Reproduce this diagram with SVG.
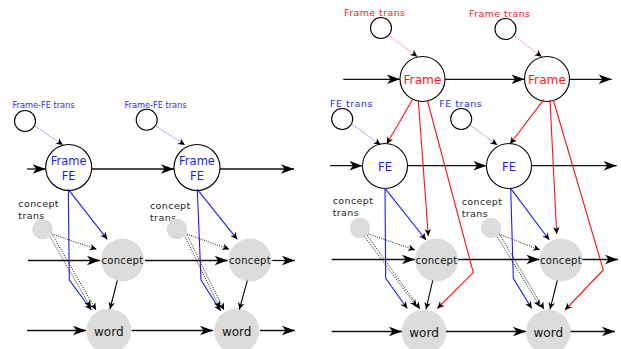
<svg xmlns="http://www.w3.org/2000/svg" width="621" height="349" viewBox="0 0 621 349">
<style>
text{font-family:"DejaVu Sans","Liberation Sans",sans-serif}
.node{fill:#fff;stroke:#000;stroke-width:1.1}
.gray{fill:#dcdcdc;stroke:none}
.row{fill:none;stroke:#111;stroke-width:1.3;marker-end:url(#big)}
.blk{fill:none;stroke:#000;stroke-width:1.1;marker-end:url(#sk)}
.dot{fill:none;stroke:#000;stroke-width:0.9;stroke-dasharray:1,1.3;marker-end:url(#sk)}
.blu{fill:none;stroke:#1a1aff;stroke-width:1.1;marker-end:url(#sk)}
.bdot{fill:none;stroke:#3a3aff;stroke-width:0.8;stroke-dasharray:1,1;marker-end:url(#sk)}
.red{fill:none;stroke:#ff1010;stroke-width:1.1;marker-end:url(#sk)}
.rdot{fill:none;stroke:#ff3030;stroke-width:0.8;stroke-dasharray:1,1;marker-end:url(#sk)}
.lblb{fill:#2a2aff;font-size:8.2px}
.lblr{fill:#ff2020;font-size:9.5px;letter-spacing:0.4px}
.lblfe{fill:#2a2aff;font-size:9.5px;letter-spacing:0.5px}
.lblc{fill:#222;font-size:9.5px;letter-spacing:0.4px}
.ct{fill:#111;font-size:10px;letter-spacing:0.3px;text-anchor:middle}
.wt{fill:#111;font-size:12px;text-anchor:middle}
.bt{fill:#1a1aff;font-size:11.5px;text-anchor:middle}
.rt{fill:#ff1a1a;font-size:12.2px;text-anchor:middle}
</style>
<defs>
<marker id="big" markerUnits="userSpaceOnUse" viewBox="-14 -6 15 12" markerWidth="15" markerHeight="12" refX="0" refY="0" orient="auto" overflow="visible">
<path d="M0,0 L-13,-4.8 L-9.5,0 L-13,4.8 Z" fill="#000"/>
</marker>
<marker id="sk" markerUnits="userSpaceOnUse" viewBox="-8 -4 9 8" markerWidth="9" markerHeight="8" refX="0" refY="0" orient="auto" overflow="visible">
<path d="M0,0 L-7,-3.3 L-5,0 L-7,3.3 Z" fill="#000"/>
</marker>
</defs>

<!-- nodes: left diagram -->
<g id="L-ffetrans1"><text class="lblb" x="12.5" y="108">Frame-FE trans</text><circle class="node" cx="25" cy="121" r="10.5"/></g>
<g id="L-ffetrans2"><text class="lblb" x="124.5" y="108">Frame-FE trans</text><circle class="node" cx="146.7" cy="119.8" r="10.5"/></g>
<g id="L-framefe1"><circle class="node" cx="68.7" cy="167.5" r="23"/><text class="bt" x="68.7" y="165">Frame</text><text class="bt" x="68.7" y="180">FE</text></g>
<g id="L-framefe2"><circle class="node" cx="197" cy="167.5" r="23"/><text class="bt" x="197" y="165">Frame</text><text class="bt" x="197" y="180">FE</text></g>
<g id="L-ctrans1"><text class="lblc" x="18.3" y="207">concept</text><text class="lblc" x="18.3" y="219">trans</text><circle class="gray" cx="42.5" cy="229" r="10.3"/></g>
<g id="L-ctrans2"><text class="lblc" x="150" y="209">concept</text><text class="lblc" x="150" y="221">trans</text><circle class="gray" cx="177" cy="229" r="10.3"/></g>
<g id="L-concept1"><circle class="gray" cx="122.5" cy="260" r="21.5"/></g>
<g id="L-concept2"><circle class="gray" cx="250" cy="260" r="21.5"/></g>
<g id="L-word1"><circle class="gray" cx="108.8" cy="331" r="22.5"/><text class="wt" x="108.8" y="335.5">word</text></g>
<g id="L-word2"><circle class="gray" cx="236.7" cy="331" r="22.5"/><text class="wt" x="236.7" y="335.5">word</text></g>

<!-- nodes: right diagram -->
<g id="R-ftrans1"><text class="lblr" x="344" y="16">Frame trans</text><circle class="node" cx="381" cy="28" r="10.5"/></g>
<g id="R-ftrans2"><text class="lblr" x="469" y="17">Frame trans</text><circle class="node" cx="505.5" cy="29" r="10.5"/></g>
<g id="R-frame1"><circle class="node" cx="422.5" cy="79" r="22.5"/><text class="rt" x="422.5" y="83.5">Frame</text></g>
<g id="R-frame2"><circle class="node" cx="547" cy="79" r="22.5"/><text class="rt" x="547" y="83.5">Frame</text></g>
<g id="R-fetrans1"><text class="lblfe" x="330" y="106.7">FE trans</text><circle class="node" cx="342.2" cy="119" r="10.5"/></g>
<g id="R-fetrans2"><text class="lblfe" x="439.3" y="106.7">FE trans</text><circle class="node" cx="461.2" cy="119" r="10.5"/></g>
<g id="R-fe1"><circle class="node" cx="385" cy="166" r="22.5"/><text class="bt" x="385" y="170.5">FE</text></g>
<g id="R-fe2"><circle class="node" cx="509" cy="166" r="22.5"/><text class="bt" x="509" y="170.5">FE</text></g>
<g id="R-ctrans1"><text class="lblc" x="332.7" y="204">concept</text><text class="lblc" x="332.7" y="216">trans</text><circle class="gray" cx="360" cy="228" r="10.2"/></g>
<g id="R-ctrans2"><text class="lblc" x="461.7" y="205">concept</text><text class="lblc" x="461.7" y="217">trans</text><circle class="gray" cx="491" cy="228" r="10.2"/></g>
<g id="R-concept1"><circle class="gray" cx="436.5" cy="260" r="21.5"/></g>
<g id="R-concept2"><circle class="gray" cx="561" cy="260" r="21.5"/></g>
<g id="R-word1"><circle class="gray" cx="424" cy="332" r="22.3"/><text class="wt" x="424" y="336.5">word</text></g>
<g id="R-word2"><circle class="gray" cx="548.3" cy="332" r="22.3"/><text class="wt" x="548.3" y="336.5">word</text></g>

<!-- connectors -->
<g id="connectors">
<!-- left rows -->
<path class="row" d="M27,169 L45.7,169"/>
<path class="row" d="M91.7,169 L174,169"/>
<path class="row" d="M220,169 L294,169"/>
<path class="row" d="M28,260.5 L100,260.5"/>
<path class="row" d="M145,260.5 L227.7,260.5"/>
<path class="row" d="M272.3,260.5 L295,260.5"/>
<path class="row" d="M27,330.5 L86,330.5"/>
<path class="row" d="M131.7,330.5 L213,330.5"/>
<path class="row" d="M260,330.5 L295,330.5"/>
<!-- left col 1 -->
<path class="bdot" d="M35,126 L63,145"/>
<path class="blu" d="M68.3,189.3 L107.3,239.3"/>
<path class="blu" d="M68.3,189.3 L69.3,280 L91.5,310"/>
<path class="dot" d="M51.7,234 L96.7,249.3"/>
<path class="dot" d="M50,236.7 L90.7,307.3"/>
<path class="dot" d="M52.7,235.3 L96,310"/>
<path class="blk" d="M117.3,280.5 L110,309"/>
<!-- left col 2 -->
<path class="bdot" d="M156.5,126.5 L185,145"/>
<path class="blu" d="M197.3,189.3 L237.3,239.3"/>
<path class="blu" d="M197.3,189.3 L201,280 L220.7,311"/>
<path class="dot" d="M186.7,234 L229.3,249.3"/>
<path class="dot" d="M185,236.7 L220,308.3"/>
<path class="dot" d="M187.3,235.3 L224,310"/>
<path class="blk" d="M247.3,280.7 L239.3,309.5"/>
<!-- right rows -->
<path class="row" d="M343.3,79.3 L400,79.3"/>
<path class="row" d="M445,79.3 L524.5,79.3"/>
<path class="row" d="M569.5,79.3 L611.7,79.3"/>
<path class="row" d="M330,165.7 L362.5,165.7"/>
<path class="row" d="M407.5,165.7 L486.5,165.7"/>
<path class="row" d="M531.5,165.7 L616.7,165.7"/>
<path class="row" d="M331.7,259.5 L415,259.5"/>
<path class="row" d="M458,259.5 L539.5,259.5"/>
<path class="row" d="M582.5,259.5 L618,259.5"/>
<path class="row" d="M331.7,331.5 L402,331.5"/>
<path class="row" d="M446,331.5 L526,331.5"/>
<path class="row" d="M570.5,331.5 L615,331.5"/>
<!-- right col 1 -->
<path class="rdot" d="M390,36 L417.3,56.7"/>
<path class="bdot" d="M351.7,124 L380.7,145"/>
<path class="red" d="M412.7,99.3 L386.7,144"/>
<path class="red" d="M418.3,100 L428.3,236"/>
<path class="red" d="M427.3,100 L473.3,272.7 L437.3,308.5"/>
<path class="blu" d="M385,188.3 L426,240"/>
<path class="blu" d="M385,188.3 L385.7,278.3 L407.3,308.5"/>
<path class="dot" d="M368.3,234 L415,250"/>
<path class="dot" d="M364.5,236.5 L416.7,306.7"/>
<path class="dot" d="M367,235 L420,309"/>
<path class="blk" d="M432.7,280.5 L426,309.3"/>
<!-- right col 2 -->
<path class="rdot" d="M515,36.7 L541.7,56.7"/>
<path class="bdot" d="M470,125 L497.3,145"/>
<path class="red" d="M544,99.3 L510,144"/>
<path class="red" d="M550,100 L556.7,234"/>
<path class="red" d="M553.3,100 L603.3,270 L565,310"/>
<path class="blu" d="M510.7,188.3 L549.3,240"/>
<path class="blu" d="M510.7,188.3 L513.3,278.3 L531.7,308.5"/>
<path class="dot" d="M499,234 L540,250"/>
<path class="dot" d="M497.3,236.7 L540,306.7"/>
<path class="dot" d="M500,235 L544,309.3"/>
<path class="blk" d="M557.3,280.5 L550,309.3"/>
</g>

<!-- concept labels above lines -->
<g id="concept-labels">
<text class="ct" x="122.5" y="264">concept</text>
<text class="ct" x="250" y="264">concept</text>
<text class="ct" x="436.5" y="263.5">concept</text>
<text class="ct" x="561" y="263.5">concept</text>
</g>
</svg>
